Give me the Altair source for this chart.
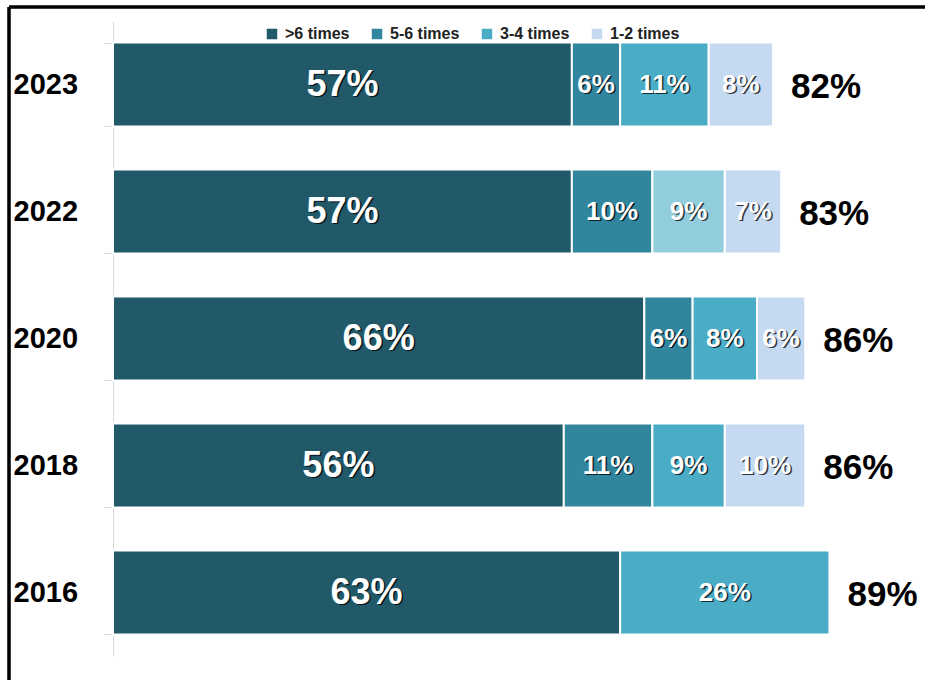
import altair as alt
import pandas as pd

years = ["2023", "2022", "2020", "2018", "2016"]
categories = [">6 times", "5-6 times", "3-4 times", "1-2 times"]
gt6 = [57, 57, 66, 56, 63]
t56 = [6, 10, 6, 11, None]
t34 = [11, 9, 8, 9, 26]
t12 = [8, 7, 6, 10, None]
totals = [82, 83, 86, 86, 89]
colors = ["#215968", "#31859C", "#4BACC6", "#C5D9F1"]

rows = []
for i, y in enumerate(years):
    cum = 0
    for k, (cat, series) in enumerate(zip(categories, [gt6, t56, t34, t12])):
        v = series[i]
        if v is None:
            continue
        rows.append({"year": y, "cat": cat, "order": k, "v": v,
                     "start": cum, "end": cum + v, "mid": cum + v / 2,
                     "label": f"{v}%"})
        cum += v
df = pd.DataFrame(rows)
tot = pd.DataFrame({"year": years, "total": totals,
                    "label": [f"{t}%" for t in totals]})

COND = "Liberation Sans Narrow, Arial Narrow, Liberation Sans, Arial"
W, H = 805, 635
xs = alt.Scale(domain=[0, 100], nice=False, zero=True)
ys = alt.Scale(domain=years, paddingInner=0.34, paddingOuter=0.17)

base = alt.Chart(df)

bars = base.mark_bar(stroke="white", strokeWidth=2).encode(
    y=alt.Y("year:N", scale=ys, sort=years, title=None,
            axis=alt.Axis(domainColor="#D9D9D9", tickColor="#D9D9D9", tickSize=9,
                          tickBand="extent", labelAlign="left", labelPadding=91,
                          labelFont="Arial", labelFontWeight="bold", labelFontSize=29,
                          labelColor="black", grid=False)),
    x=alt.X("start:Q", scale=xs, axis=None),
    x2="end:Q",
    color=alt.condition(
        "datum.year == '2022' && datum.cat == '3-4 times'",
        alt.value("#92CDDC"),
        alt.Color("cat:N", scale=alt.Scale(domain=categories, range=colors),
                  title=None,
                  legend=alt.Legend(orient="none", direction="horizontal",
                                    legendX=151, legendY=5, symbolType="square",
                                    symbolSize=110, symbolStrokeWidth=0,
                                    labelFont=COND,
                                    labelFontWeight="bold", labelFontSize=16,
                                    labelColor="#222222", labelOffset=5,
                                    columnPadding=19, padding=0)),
    ),
)

size_cond = alt.condition("datum.cat == '>6 times'", alt.value(36), alt.value(26))

shadow = base.mark_text(font="Arial", fontWeight="bold", color="black",
                        opacity=0.75, dx=1.5, dy=1.5, baseline="middle").encode(
    y=alt.Y("year:N", scale=ys, sort=years),
    x=alt.X("mid:Q", scale=xs),
    text="label:N",
    size=size_cond,
)
labels = base.mark_text(font="Arial", fontWeight="bold", color="white",
                        baseline="middle").encode(
    y=alt.Y("year:N", scale=ys, sort=years),
    x=alt.X("mid:Q", scale=xs),
    text="label:N",
    size=size_cond,
)

totals_text = alt.Chart(tot).mark_text(
    font=COND, fontWeight="bold", fontSize=35,
    color="black", align="left", baseline="middle", dx=18, dy=2,
).encode(
    y=alt.Y("year:N", scale=ys, sort=years),
    x=alt.X("total:Q", scale=xs),
    text="label:N",
)

frame_top = alt.Chart(tot).mark_rule(color="black", strokeWidth=2.5).encode(
    x=alt.value(-104), x2=alt.value(812), y=alt.value(-14))
frame_left = alt.Chart(tot).mark_rule(color="black", strokeWidth=2.5).encode(
    x=alt.value(-104), y=alt.value(-14), y2=alt.value(659))

chart = alt.layer(bars, shadow, labels, totals_text, frame_top, frame_left).properties(
    width=W, height=H,
    autosize=alt.AutoSizeParams(type="none"),
    padding={"left": 113, "top": 21, "right": 7, "bottom": 24},
    background="white",
).configure_view(stroke=None)

chart.save("out.html", embed_options={"renderer": "svg", "actions": False})
